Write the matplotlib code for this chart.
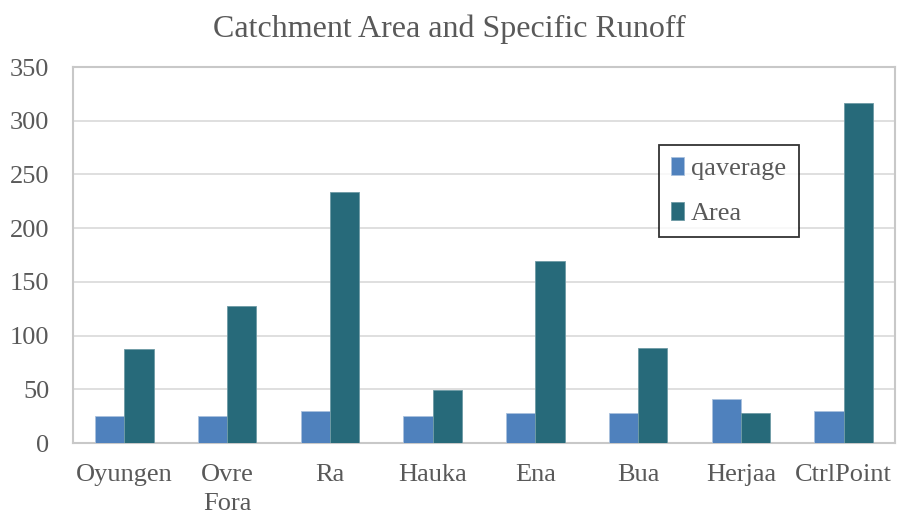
import matplotlib
matplotlib.use("Agg")
import matplotlib.pyplot as plt
import numpy as np

categories = ["Oyungen", "Ovre\nFora", "Ra", "Hauka", "Ena", "Bua", "Herjaa", "CtrlPoint"]
qaverage = [25, 25, 29.5, 25.5, 28, 28, 40.7, 29.8]
area = [87.5, 127.5, 233.6, 49.3, 169.4, 88, 27.6, 316.8]
yticks = [0, 50, 100, 150, 200, 250, 300, 350]

plt.rcParams['font.family'] = ['Liberation Serif', 'DejaVu Serif']
txt = '#595959'

fig = plt.figure(figsize=(8.98, 5.17), dpi=100)
ax = fig.add_axes([73/898, 74/517, (895-73)/898, (443-67)/517])

x = np.arange(len(categories))
w = 0.285
ax.bar(x - w/2, qaverage, w, color='#4F81BD', edgecolor='#A9C1DE', linewidth=0.6, label='qaverage', zorder=3)
ax.bar(x + w/2, area, w, color='#276A7A', edgecolor='#6E9AA5', linewidth=0.6, label='Area', zorder=3)

ax.set_xlim(-0.5, len(categories) - 0.5)
ax.set_ylim(0, 350)
ax.set_yticks(yticks)
ax.set_yticklabels([str(v) for v in yticks])
ax.set_xticks(x)
ax.set_xticklabels(categories, linespacing=1.4)
ax.tick_params(axis='both', length=0, labelsize=19, labelcolor=txt)
ax.tick_params(axis='y', pad=17)
ax.tick_params(axis='x', pad=15)
ax.grid(axis='y', color='#D9D9D9', linewidth=1.2, zorder=0)
for s in ax.spines.values():
    s.set_color('#C8C8C8')
    s.set_linewidth(1.5)

fig.text(0.5, 1 - 29/517, 'Catchment Area and Specific Runoff', ha='center', va='center',
         fontsize=23, color=txt)

leg = ax.legend(loc='center', bbox_to_anchor=(659/898, 1 - 237/517, 140/898, 92/517),
                bbox_transform=fig.transFigure, mode='expand', fontsize=19, frameon=True,
                fancybox=False, edgecolor='black', handlelength=0.5, handleheight=0.7,
                handletextpad=0.25, labelspacing=0.8, borderpad=0.45, borderaxespad=0)
leg.get_frame().set_linewidth(1.3)
for t in leg.get_texts():
    t.set_color(txt)

fig.savefig('out.png', dpi=100)
